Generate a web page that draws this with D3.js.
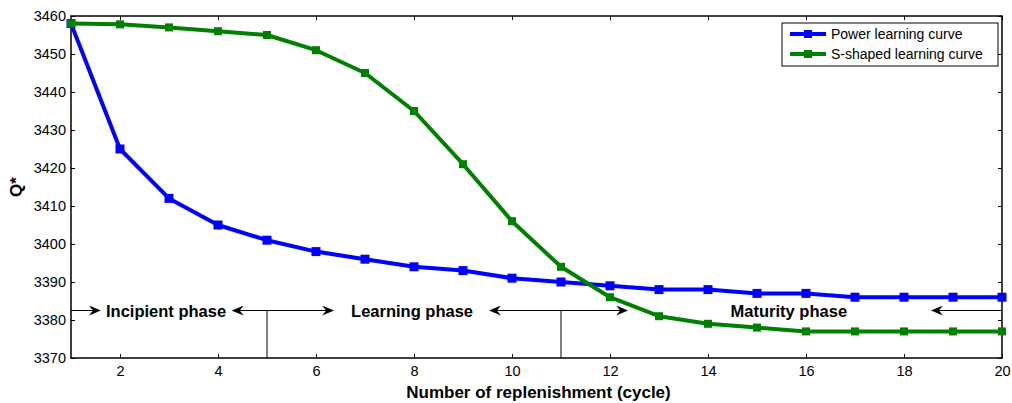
<!DOCTYPE html>
<html>
<head>
<meta charset="utf-8">
<script src="https://cdn.jsdelivr.net/npm/d3@7"></script>
<style>
  body { margin: 0; background: #fff; }
  text { font-family: "Liberation Sans", Arial, sans-serif; }
</style>
</head>
<body>
<div id="chart"></div>
<script>
// dati
var cycles = [1,2,3,4,5,6,7,8,9,10,11,12,13,14,15,16,17,18,19,20];
var powerCurve = [3458,3425,3412,3405,3401,3398,3396,3394,3393,3391,3390,3389,3388,3388,3387,3387,3386,3386,3386,3386];
var sCurve = [3458,3457.8,3457,3456,3455,3451,3445,3435,3421,3406,3394,3386,3381,3379,3378,3377,3377,3377,3377,3377];
var seriesNames = ["Power learning curve", "S-shaped learning curve"];
var xTicks = [2,4,6,8,10,12,14,16,18,20];
var yTicks = [3370,3380,3390,3400,3410,3420,3430,3440,3450,3460];
// fasi: etichetta e posizione in x / y (unità dei dati)
var phases = [
  {label: "Incipient phase", x: 2.94, y: 3382.3},
  {label: "Learning phase", x: 7.96, y: 3382.3},
  {label: "Maturity phase", x: 15.65, y: 3382.3}
];
var dividers = [5, 11];

var W = 1012, H = 403;
var m = {left: 71, right: 10, top: 16, bottom: 45};

var svg = d3.select("#chart").append("svg")
  .attr("width", W).attr("height", H);

var x = d3.scaleLinear().domain([1, 20]).range([m.left, W - m.right]);
var y = d3.scaleLinear().domain([3370, 3460]).range([H - m.bottom, m.top]);

var colors = ["#0000ff", "#008000"];

// marker per le frecce
var defs = svg.append("defs");
defs.append("marker")
  .attr("id", "arr")
  .attr("viewBox", "0 0 12 10")
  .attr("refX", 11).attr("refY", 5)
  .attr("markerWidth", 12).attr("markerHeight", 10)
  .attr("markerUnits", "userSpaceOnUse")
  .attr("orient", "auto-start-reverse")
  .append("path")
  .attr("d", "M0,0 L12,5 L0,10 L4,5 Z")
  .attr("fill", "#000");

// assi con tick verso l'interno (stile matlab)
var tl = 4;
svg.append("g")
  .attr("transform", "translate(0," + (H - m.bottom) + ")")
  .call(d3.axisBottom(x).tickValues(xTicks).tickSize(-tl).tickPadding(8))
  .call(function(g){ g.select(".domain").remove(); });
svg.append("g")
  .attr("transform", "translate(0," + m.top + ")")
  .call(d3.axisTop(x).tickValues(xTicks).tickSize(-tl).tickFormat(""))
  .call(function(g){ g.select(".domain").remove(); });
svg.append("g")
  .attr("transform", "translate(" + m.left + ",0)")
  .call(d3.axisLeft(y).tickValues(yTicks).tickSize(-tl).tickPadding(5).tickFormat(d3.format("d")))
  .call(function(g){ g.select(".domain").remove(); });
svg.append("g")
  .attr("transform", "translate(" + (W - m.right) + ",0)")
  .call(d3.axisRight(y).tickValues(yTicks).tickSize(-tl).tickFormat(""))
  .call(function(g){ g.select(".domain").remove(); });

svg.selectAll(".tick text").style("font-size", "14.5px").attr("fill", "#000");
svg.selectAll(".tick line").attr("stroke", "#000");

// cornice
svg.append("rect")
  .attr("x", m.left).attr("y", m.top)
  .attr("width", W - m.right - m.left).attr("height", H - m.bottom - m.top)
  .attr("fill", "none").attr("stroke", "#000").attr("stroke-width", 1.5);

// annotazioni delle fasi
var ya = y(3382.5);
var ann = svg.append("g").attr("stroke", "#000").attr("stroke-width", 1);
ann.append("line").attr("x1", x(1)).attr("x2", x(1.59)).attr("y1", ya).attr("y2", ya)
  .attr("marker-end", "url(#arr)");
ann.append("line").attr("x1", x(4.3)).attr("x2", x(6.35)).attr("y1", ya).attr("y2", ya)
  .attr("marker-start", "url(#arr)").attr("marker-end", "url(#arr)");
ann.append("line").attr("x1", x(9.55)).attr("x2", x(12.35)).attr("y1", ya).attr("y2", ya)
  .attr("marker-start", "url(#arr)").attr("marker-end", "url(#arr)");
ann.append("line").attr("x1", x(18.57)).attr("x2", x(20)).attr("y1", ya).attr("y2", ya)
  .attr("marker-start", "url(#arr)");
ann.selectAll(".div").data(dividers).enter().append("line")
  .attr("x1", function(d){ return x(d); }).attr("x2", function(d){ return x(d); })
  .attr("y1", ya).attr("y2", y(3370));

svg.selectAll(".phase").data(phases).enter().append("text")
  .attr("x", function(d){ return x(d.x); })
  .attr("y", function(d){ return y(d.y); })
  .attr("dy", "0.35em")
  .attr("text-anchor", "middle")
  .style("font-size", "16.5px").style("font-weight", "bold")
  .text(function(d){ return d.label; });

// serie
var series = [powerCurve, sCurve];
var line = d3.line().x(function(d, i){ return x(cycles[i]); }).y(function(d){ return y(d); });
series.forEach(function(s, k){
  svg.append("path").datum(s)
    .attr("d", line)
    .attr("fill", "none")
    .attr("stroke", colors[k])
    .attr("stroke-width", 4)
    .attr("stroke-linejoin", "round");
  var ms = k == 0 ? 9 : 8;
  svg.selectAll(".mk" + k).data(s).enter().append("rect")
    .attr("x", function(d, i){ return x(cycles[i]) - ms / 2; })
    .attr("y", function(d){ return y(d) - ms / 2; })
    .attr("width", ms).attr("height", ms)
    .attr("fill", colors[k]);
});

// legenda
var lg = svg.append("g").attr("transform", "translate(782,23)");
lg.append("rect").attr("width", 216).attr("height", 43)
  .attr("fill", "#fff").attr("stroke", "#000").attr("stroke-width", 1);
seriesNames.forEach(function(n, k){
  var ly = 11 + k * 20;
  lg.append("line").attr("x1", 8).attr("x2", 44).attr("y1", ly).attr("y2", ly)
    .attr("stroke", colors[k]).attr("stroke-width", 4);
  lg.append("rect").attr("x", 22).attr("y", ly - 4).attr("width", 8).attr("height", 8)
    .attr("fill", colors[k]);
  lg.append("text").attr("x", 49).attr("y", ly).attr("dy", "0.35em")
    .style("font-size", "14px").text(n);
});

// titoli degli assi
svg.append("text")
  .attr("x", (m.left + W - m.right) / 2 + 2).attr("y", H - 5)
  .attr("text-anchor", "middle")
  .style("font-size", "17px").style("font-weight", "bold")
  .text("Number of replenishment (cycle)");
svg.append("text")
  .attr("transform", "translate(22," + ((m.top + H - m.bottom) / 2) + ") rotate(-90)")
  .attr("text-anchor", "middle")
  .style("font-size", "17px").style("font-weight", "bold")
  .text("Q*");
</script>
</body>
</html>
